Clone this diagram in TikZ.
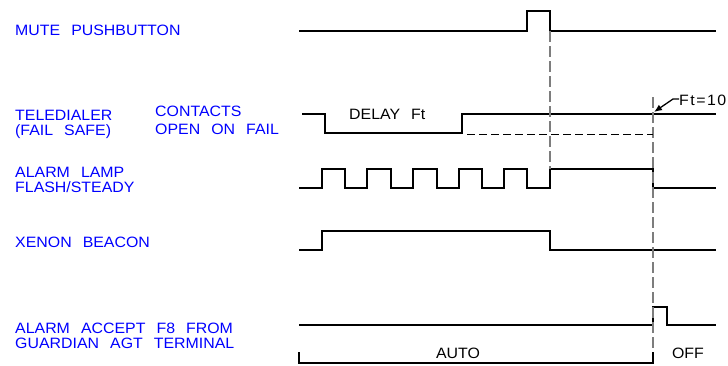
\documentclass[tikz,border=0pt]{standalone}
\usepackage{fontspec}
\setmainfont{Liberation Sans}[WordSpace=2.5,FakeStretch=1.06]
\usetikzlibrary{arrows.meta}
\definecolor{lblue}{RGB}{0,0,255}
\definecolor{dgrey}{RGB}{125,125,125}
\begin{document}
\begin{tikzpicture}[x=1pt,y=-1pt,
  lbl/.style={anchor=base west,inner sep=0pt,text=lblue,font=\fontsize{15}{15}\selectfont},
  txt/.style={anchor=base,inner sep=0pt,text=black,font=\fontsize{15}{15}\selectfont},
  sig/.style={line width=1.6pt,line join=miter},
  guide/.style={draw=dgrey,line width=1.2pt,dash pattern=on 11pt off 4pt},
  hdash/.style={line width=1pt,dash pattern=on 8pt off 4pt}]
\useasboundingbox (0,0) rectangle (728,365);
% labels
\node[lbl] (mute) at (15,35) {MUTE PUSHBUTTON};
\node[lbl] (tele1) at (15,120) {TELEDIALER};
\node[lbl] (tele2) at (15,135) {(FAIL SAFE)};
\node[lbl] (cont1) at (155,116) {CONTACTS};
\node[lbl] (cont2) at (155,134) {OPEN ON FAIL};
\node[lbl] (lamp1) at (15,177) {ALARM LAMP};
\node[lbl] (lamp2) at (15,192) {FLASH/STEADY};
\node[lbl] (xenon) at (15,247) {XENON BEACON};
\node[lbl] (acc1) at (15,333) {ALARM ACCEPT F8 FROM};
\node[lbl] (acc2) at (15,348) {GUARDIAN AGT TERMINAL};
% signals
\draw[sig] (299,31) -| (527,11) -| (550,31) -- (716,31);
\draw[sig] (302,114) -| (325,133) -| (462,114) -- (716,114);
\draw[sig] (299,188) -| (322,169) -| (345,188) -| (367,169) -| (391,188) -| (413,169)
  -| (437,188) -| (459,169) -| (482,188) -| (504,169) -| (527,188) -| (550,169)
  -| (653,188) -- (716,188);
\draw[sig] (299,250) -| (322,231) -| (550,250) -- (716,250);
\draw[sig] (299,325) -| (653,307) -| (667,325) -- (716,325);
% guides
\draw[guide] (550,31) -- (550,169);
\draw[guide] (653,97) -- (653,352);
\draw[hdash] (467,134) -- (653,134);
% bracket
\draw[sig] (299,352) |- (653,363) -- (653,352);
% texts
\node[txt,anchor=base west] (delay) at (349,119) {DELAY Ft};
\node[txt] (auto) at (458,358) {AUTO};
\node[txt] (off) at (688,358) {OFF};
\node[txt,anchor=base west,font=\fontsize{15}{15}\selectfont\addfontfeature{LetterSpace=10}] (ft) at (679,105) {Ft=10};
\coordinate (fttip) at (654,112);
\draw[line width=1.3pt,-{Latex[length=8pt,width=6.5pt]}] (ft.west|-0,99) -- (673,99) -- (fttip);
\end{tikzpicture}
\end{document}
